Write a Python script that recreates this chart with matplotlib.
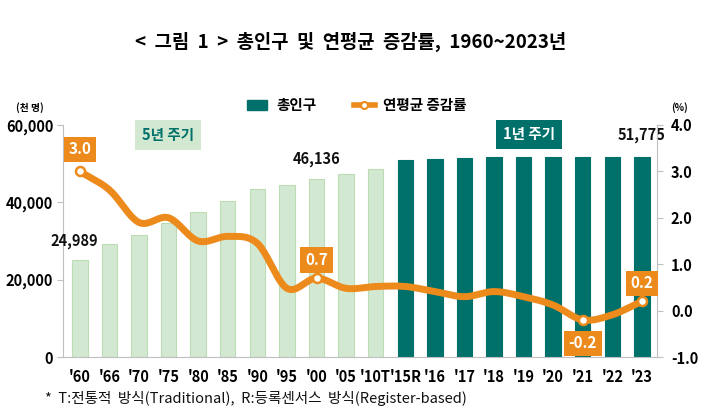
import numpy as np
import matplotlib
matplotlib.use('Agg')
import matplotlib.pyplot as plt
from matplotlib.lines import Line2D
from matplotlib.patches import Patch

plt.rcParams['font.family'] = ['Noto Sans CJK KR', 'DejaVu Sans']

years = ["'60", "'66", "'70", "'75", "'80", "'85", "'90", "'95", "'00", "'05", "'10T",
         "'15R", "'16", "'17", "'18", "'19", "'20", "'21", "'22", "'23"]
population = [24989, 29193, 31466, 34679, 37436, 40448, 43411, 44609, 46136, 47279, 48580,
              51069, 51270, 51423, 51630, 51779, 51829, 51739, 51692, 51775]
growth = [3.0, 2.6, 1.9, 2.0, 1.5, 1.6, 1.45, 0.48, 0.7, 0.48, 0.52,
          0.52, 0.41, 0.3, 0.41, 0.3, 0.12, -0.2, -0.09, 0.2]
five_year = 11  # first 11 points are 5-year census

teal = '#00706a'
light = '#d3e8d1'
light_edge = '#bcdcb5'
orange = '#ec8a1c'
grey = '#bfbfbf'

def smooth(x, y, n=20):
    # Catmull-Rom curve through the data points (chart line smoothing)
    x = np.asarray(x, float); y = np.asarray(y, float)
    px = np.concatenate([[2*x[0]-x[1]], x, [2*x[-1]-x[-2]]])
    py = np.concatenate([[2*y[0]-y[1]], y, [2*y[-1]-y[-2]]])
    xs, ys = [], []
    t = np.linspace(0, 1, n, endpoint=False)
    for i in range(1, len(px)-2):
        for p, out in ((px, xs), (py, ys)):
            p0, p1, p2, p3 = p[i-1], p[i], p[i+1], p[i+2]
            out.extend(0.5*((2*p1) + (-p0+p2)*t + (2*p0-5*p1+4*p2-p3)*t**2 + (-p0+3*p1-3*p2+p3)*t**3))
    xs.append(x[-1]); ys.append(y[-1])
    return np.array(xs), np.array(ys)

fig = plt.figure(figsize=(7.04, 4.09), dpi=100)
ax = fig.add_axes([63/704, 1-357/409, (657-63)/704, (357-125)/409])
x = np.arange(len(years))
colors = [light]*five_year + [teal]*(len(years)-five_year)
edges = [light_edge]*five_year + [teal]*(len(years)-five_year)
ax.bar(x, population, width=0.52, color=colors, edgecolor=edges, linewidth=0.8, zorder=2)
ax.set_ylim(0, 60000)
ax.set_xlim(-0.57, len(years)-0.49)
ax.set_yticks([0, 20000, 40000, 60000])
ax.set_yticklabels([f'{v:,}' for v in [0, 20000, 40000, 60000]], fontsize=10.5, fontweight='bold')
ax.set_xticks(x)
ax.set_xticklabels(years, fontsize=10.5, fontweight='bold')
for s in ['top', 'right']:
    ax.spines[s].set_visible(False)
for s in ['left', 'bottom']:
    ax.spines[s].set_color(grey)
ax.tick_params(axis='y', color=grey, length=4, pad=3)
ax.tick_params(axis='x', length=0, pad=9)

ax2 = ax.twinx()
sx, sy = smooth(x, growth)
ax2.plot(sx, sy, color=orange, lw=5, solid_capstyle='round', zorder=3)
for i in [0, 8, 17, 19]:
    ax2.plot(x[i], growth[i], 'o', ms=6.5, mfc='white', mec=orange, mew=1.8, zorder=4)
ax2.set_ylim(-1, 4)
ax2.set_yticks([-1, 0, 1, 2, 3, 4])
ax2.set_yticklabels([f'{v:.1f}' for v in [-1, 0, 1, 2, 3, 4]], fontsize=10.5, fontweight='bold')
for s in ['top', 'left', 'bottom']:
    ax2.spines[s].set_visible(False)
ax2.spines['right'].set_color(grey)
ax2.tick_params(axis='y', color=grey, length=4, pad=6)

for i, dy in [(0, 16), (8, 13), (17, -17), (19, 13)]:
    ax2.annotate(f'{growth[i]:.1f}', (x[i], growth[i]), xytext=(0, dy), textcoords='offset points',
                 ha='center', va='center', fontsize=11, fontweight='bold', color='white',
                 bbox=dict(boxstyle='square,pad=0.3', fc=orange, ec='none'), zorder=5)

for i, dx, dy in [(0, -4, 8), (8, 0, 8), (19, 0, 10)]:
    ax.annotate(f'{population[i]:,}', (x[i], population[i]), xytext=(dx, dy), textcoords='offset points',
                ha='center', va='bottom', fontsize=10.5, fontweight='bold', color='#111111')

fig.text(168/704, 1-135/409, '5년 주기', ha='center', va='center', fontsize=10.5, fontweight='bold',
         color=teal, bbox=dict(boxstyle='square,pad=0.5', fc=light, ec='none'))
fig.text(529/704, 1-134.5/409, '1년 주기', ha='center', va='center', fontsize=10.5, fontweight='bold',
         color='white', bbox=dict(boxstyle='square,pad=0.45', fc=teal, ec='none'))

fig.text(351/704, 1-42/409, '<  그림  1  >  총인구  및  연평균  증감률,  1960~2023년', ha='center', va='center',
         fontsize=13.5, fontweight='bold')
fig.text(30/704, 1-108/409, '(천 명)', ha='center', va='center', fontsize=7, fontweight='bold')
fig.text(680/704, 1-108/409, '(%)', ha='center', va='center', fontsize=7, fontweight='bold')
fig.text(45/704, 1-398/409, '*  T:전통적  방식(Traditional),  R:등록센서스  방식(Register-based)',
         ha='left', va='center', fontsize=10.5, color='#111111')

handles = [Patch(color=teal),
           Line2D([0], [0], color=orange, lw=4, marker='o', ms=5, mfc='white', mec=orange, mew=1.5)]
fig.legend(handles, ['총인구', '연평균 증감률'], loc='center', bbox_to_anchor=(357/704, 1-105/409),
           ncol=2, frameon=False, prop={'size': 10.5, 'weight': 'bold'}, handlelength=1.4,
           handleheight=0.7, columnspacing=2.6, handletextpad=0.6)

fig.savefig('out.png', dpi=100)
